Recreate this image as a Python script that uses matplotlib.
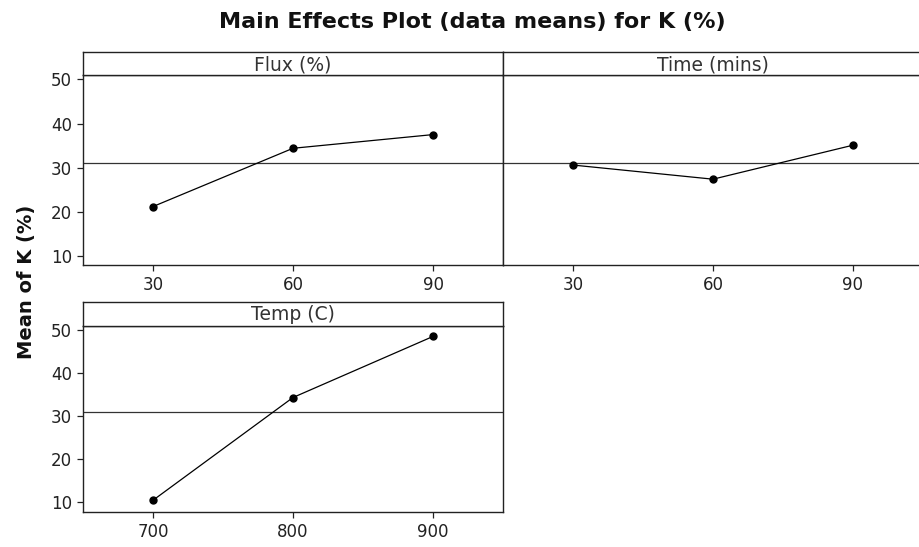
import matplotlib
matplotlib.use("Agg")
import matplotlib.pyplot as plt
import numpy as np

plt.rcParams['font.family'] = ['DejaVu Sans']

# ---- data ----
flux_levels = ["30", "60", "90"]
flux_means = [21.2, 34.4, 37.5]
time_levels = ["30", "60", "90"]
time_means = [30.6, 27.4, 35.1]
temp_levels = ["700", "800", "900"]
temp_means = [10.4, 34.3, 48.5]
panel_titles = ["Flux (%)", "Time (mins)", "Temp (C)"]
y_ticks = [10, 20, 30, 40, 50]
grand_mean = float(np.mean(flux_means + time_means + temp_means))

W, H = 919, 547
fig = plt.figure(figsize=(W / 100, H / 100), dpi=100)

def rect(l, t, r, b):
    return [l / W, 1 - b / H, (r - l) / W, (b - t) / H]

def panel(l, t_strip, t, r, b, levels, means, title, ylim, show_y):
    ax = fig.add_axes(rect(l, t, r, b))
    sx = fig.add_axes(rect(l, t_strip, r, t))
    x = np.arange(len(levels))
    ax.axhline(grand_mean, color="#333333", lw=0.9, zorder=1)
    ax.plot(x, means, color="black", lw=0.9, marker="o", ms=5, zorder=3)
    ax.set_xlim(-0.5, 2.5)
    ax.set_ylim(*ylim)
    ax.set_xticks(x)
    ax.set_xticklabels(levels)
    ax.tick_params(axis="x", direction="out", length=4, width=0.9,
                   labelsize=12, colors="#222222", pad=4)
    if show_y:
        ax.set_yticks(y_ticks)
        ax.tick_params(axis="y", direction="out", length=4, width=0.9,
                       labelsize=12, colors="#222222", pad=4)
    else:
        ax.set_yticks([])
    for s in ax.spines.values():
        s.set_linewidth(1.0)
        s.set_color("#222222")
    sx.set_xticks([])
    sx.set_yticks([])
    for s in sx.spines.values():
        s.set_linewidth(1.0)
        s.set_color("#222222")
    sx.text(0.5, 0.45, title, ha="center", va="center", fontsize=13.5,
            color="#333333", transform=sx.transAxes)
    return ax

panel(83, 52, 75, 503, 265, flux_levels, flux_means, panel_titles[0], (7.96, 51.0), True)
panel(503, 52, 75, 923, 265, time_levels, time_means, panel_titles[1], (7.96, 51.0), False)
panel(83, 301.7, 325.7, 503, 511.7, temp_levels, temp_means, panel_titles[2], (7.74, 51.0), True)

fig.text(472 / W, 1 - 22 / H, "Main Effects Plot (data means) for K (%)",
         ha="center", va="center", fontsize=16, fontweight="bold", color="#111111")
fig.text(27 / W, 1 - 282 / H, "Mean of K (%)", ha="center", va="center",
         rotation=90, fontsize=14, fontweight="bold", color="#111111")

fig.savefig("out.png", dpi=100)
